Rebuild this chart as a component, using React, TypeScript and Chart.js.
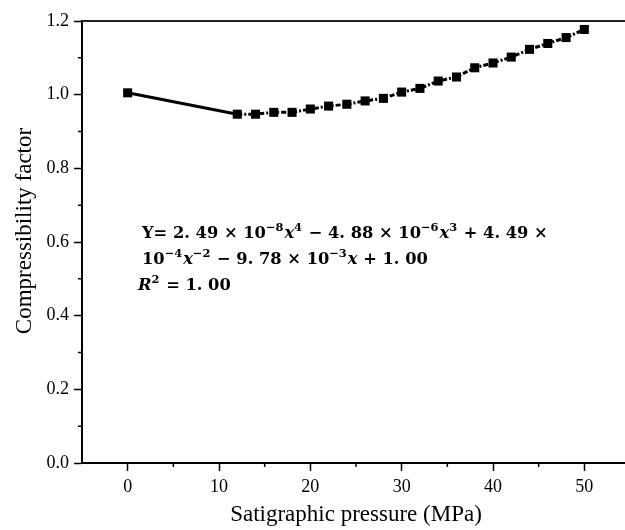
import React, { useEffect, useRef } from 'react';
import { Chart, registerables } from 'chart.js';

Chart.register(...registerables);

const pressure = [0, 12, 14, 16, 18, 20, 22, 24, 26, 28, 30, 32, 34, 36, 38, 40, 42, 44, 46, 48, 50];
const zFactor = [1.005, 0.947, 0.947, 0.952, 0.952, 0.961, 0.969, 0.974, 0.983, 0.99, 1.007, 1.017, 1.037, 1.048, 1.073, 1.086, 1.102, 1.123, 1.139, 1.155, 1.177];
const xMajorTicks = [0, 10, 20, 30, 40, 50];
const xMinorTicks = [5, 15, 25, 35, 45, 55];
const yMinorTicks = [0.1, 0.3, 0.5, 0.7, 0.9, 1.1];
const xTitle = 'Satigraphic pressure (MPa)';
const yTitle = 'Compressibility factor';

type Seg = { t: string; i?: boolean; sup?: boolean };
const eqLine1: Seg[] = [
  { t: 'Y= 2.' }, { t: ' 49 × 10' }, { t: '−8', sup: true }, { t: 'x', i: true }, { t: '4', sup: true },
  { t: ' − 4.' }, { t: ' 88 × 10' }, { t: '−6', sup: true }, { t: 'x', i: true }, { t: '3', sup: true },
  { t: ' + 4.' }, { t: ' 49 ×' },
];
const eqLine2: Seg[] = [
  { t: '10' }, { t: '−4', sup: true }, { t: 'x', i: true }, { t: '−2', sup: true },
  { t: ' − 9.' }, { t: ' 78 × 10' }, { t: '−3', sup: true }, { t: 'x', i: true }, { t: ' + 1.' }, { t: ' 00' },
];
const eqLine3: Seg[] = [
  { t: 'R', i: true }, { t: '2', sup: true }, { t: ' = 1.' }, { t: ' 00' },
];

const SERIF = "'Liberation Serif', 'Times New Roman', serif";
const MATH = "'DejaVu Serif', serif";

function drawRich(ctx: CanvasRenderingContext2D, segs: Seg[], x: number, y: number, size: number) {
  let cx = x;
  for (const s of segs) {
    const fs = s.sup ? size * 0.7 : size;
    ctx.font = `${s.i ? 'italic ' : ''}bold ${fs}px ${MATH}`;
    const dy = s.sup ? -size * 0.42 : 0;
    ctx.fillText(s.t, cx, y + dy);
    cx += ctx.measureText(s.t).width + (s.sup ? 1 : 0);
  }
}

const framePlugin = {
  id: 'frameAndMinor',
  afterDraw(chart: any) {
    const { ctx, chartArea } = chart;
    const xs = chart.scales.x;
    const ys = chart.scales.y;
    ctx.save();
    ctx.strokeStyle = '#222';
    ctx.lineWidth = 2;
    ctx.beginPath();
    ctx.moveTo(chartArea.left, chartArea.top);
    ctx.lineTo(chartArea.right, chartArea.top);
    ctx.lineTo(chartArea.right, chartArea.bottom);
    ctx.stroke();
    ctx.strokeStyle = '#000';
    ctx.lineWidth = 1.5;
    ctx.beginPath();
    for (const v of xMinorTicks) {
      const px = xs.getPixelForValue(v);
      ctx.moveTo(px, chartArea.bottom);
      ctx.lineTo(px, chartArea.bottom + 4);
    }
    for (const v of yMinorTicks) {
      const py = ys.getPixelForValue(v);
      ctx.moveTo(chartArea.left, py);
      ctx.lineTo(chartArea.left - 4, py);
    }
    ctx.stroke();
    ctx.fillStyle = '#000';
    ctx.textBaseline = 'alphabetic';
    ctx.textAlign = 'left';
    drawRich(ctx, eqLine1, 142, 238, 16.3);
    drawRich(ctx, eqLine2, 142, 264, 16.3);
    drawRich(ctx, eqLine3, 138, 290, 16.3);
    // y-axis title
    ctx.save();
    ctx.translate(25, 231);
    ctx.rotate(-Math.PI / 2);
    ctx.textAlign = 'center';
    ctx.textBaseline = 'middle';
    ctx.font = `23px ${SERIF}`;
    ctx.fillText(yTitle, 0, 0);
    ctx.restore();
    ctx.restore();
  },
};

export default function App() {
  const ref = useRef<HTMLCanvasElement | null>(null);
  useEffect(() => {
    if (!ref.current) return;
    const chart = new Chart(ref.current, {
      type: 'line',
      data: {
        datasets: [
          {
            data: pressure.map((p, i) => ({ x: p, y: zFactor[i] })),
            borderColor: '#000',
            backgroundColor: '#000',
            borderWidth: 3,
            pointStyle: 'rect',
            pointRadius: 6.4,
            pointHoverRadius: 6.4,
            pointBorderWidth: 0,
            pointBackgroundColor: '#000',
            segment: {
              borderDash: (c: any) => (c.p0DataIndex >= 1 ? [5, 2, 2, 2] : undefined),
            },
          },
        ],
      },
      options: {
        responsive: false,
        animation: false,
        layout: { padding: { top: 21, right: 10, left: 0, bottom: 0 } },
        plugins: { legend: { display: false }, tooltip: { enabled: false } },
        scales: {
          x: {
            type: 'linear',
            min: -5,
            max: 55,
            afterFit: (s: any) => { s.height = 67; },
            afterBuildTicks: (s: any) => { s.ticks = xMajorTicks.map((v) => ({ value: v })); },
            ticks: {
              color: '#000',
              padding: 5,
              font: { family: SERIF, size: 18 },
            },
            grid: { drawOnChartArea: false, drawTicks: true, tickLength: 8, tickColor: '#000', tickWidth: 1.5 },
            border: { display: true, color: '#000', width: 2 },
            title: { display: true, text: xTitle, color: '#000', font: { family: SERIF, size: 23 }, padding: { top: 0, bottom: 1 } },
          },
          y: {
            type: 'linear',
            min: 0,
            max: 1.2,
            afterFit: (s: any) => { s.width = 82; },
            ticks: {
              stepSize: 0.2,
              color: '#000',
              padding: 5,
              font: { family: SERIF, size: 18 },
              callback: (v: any) => Number(v).toFixed(1),
            },
            grid: { drawOnChartArea: false, drawTicks: true, tickLength: 8, tickColor: '#000', tickWidth: 1.5 },
            border: { display: true, color: '#000', width: 2 },
            title: { display: false, text: yTitle },
          },
        },
      },
      plugins: [framePlugin],
    });
    return () => chart.destroy();
  }, []);
  return (
    <div style={{ position: 'fixed', left: 0, top: 0, width: 625, height: 530, overflow: 'hidden', background: '#fff' }}>
      <canvas ref={ref} width={640} height={530} style={{ display: 'block' }} />
    </div>
  );
}
